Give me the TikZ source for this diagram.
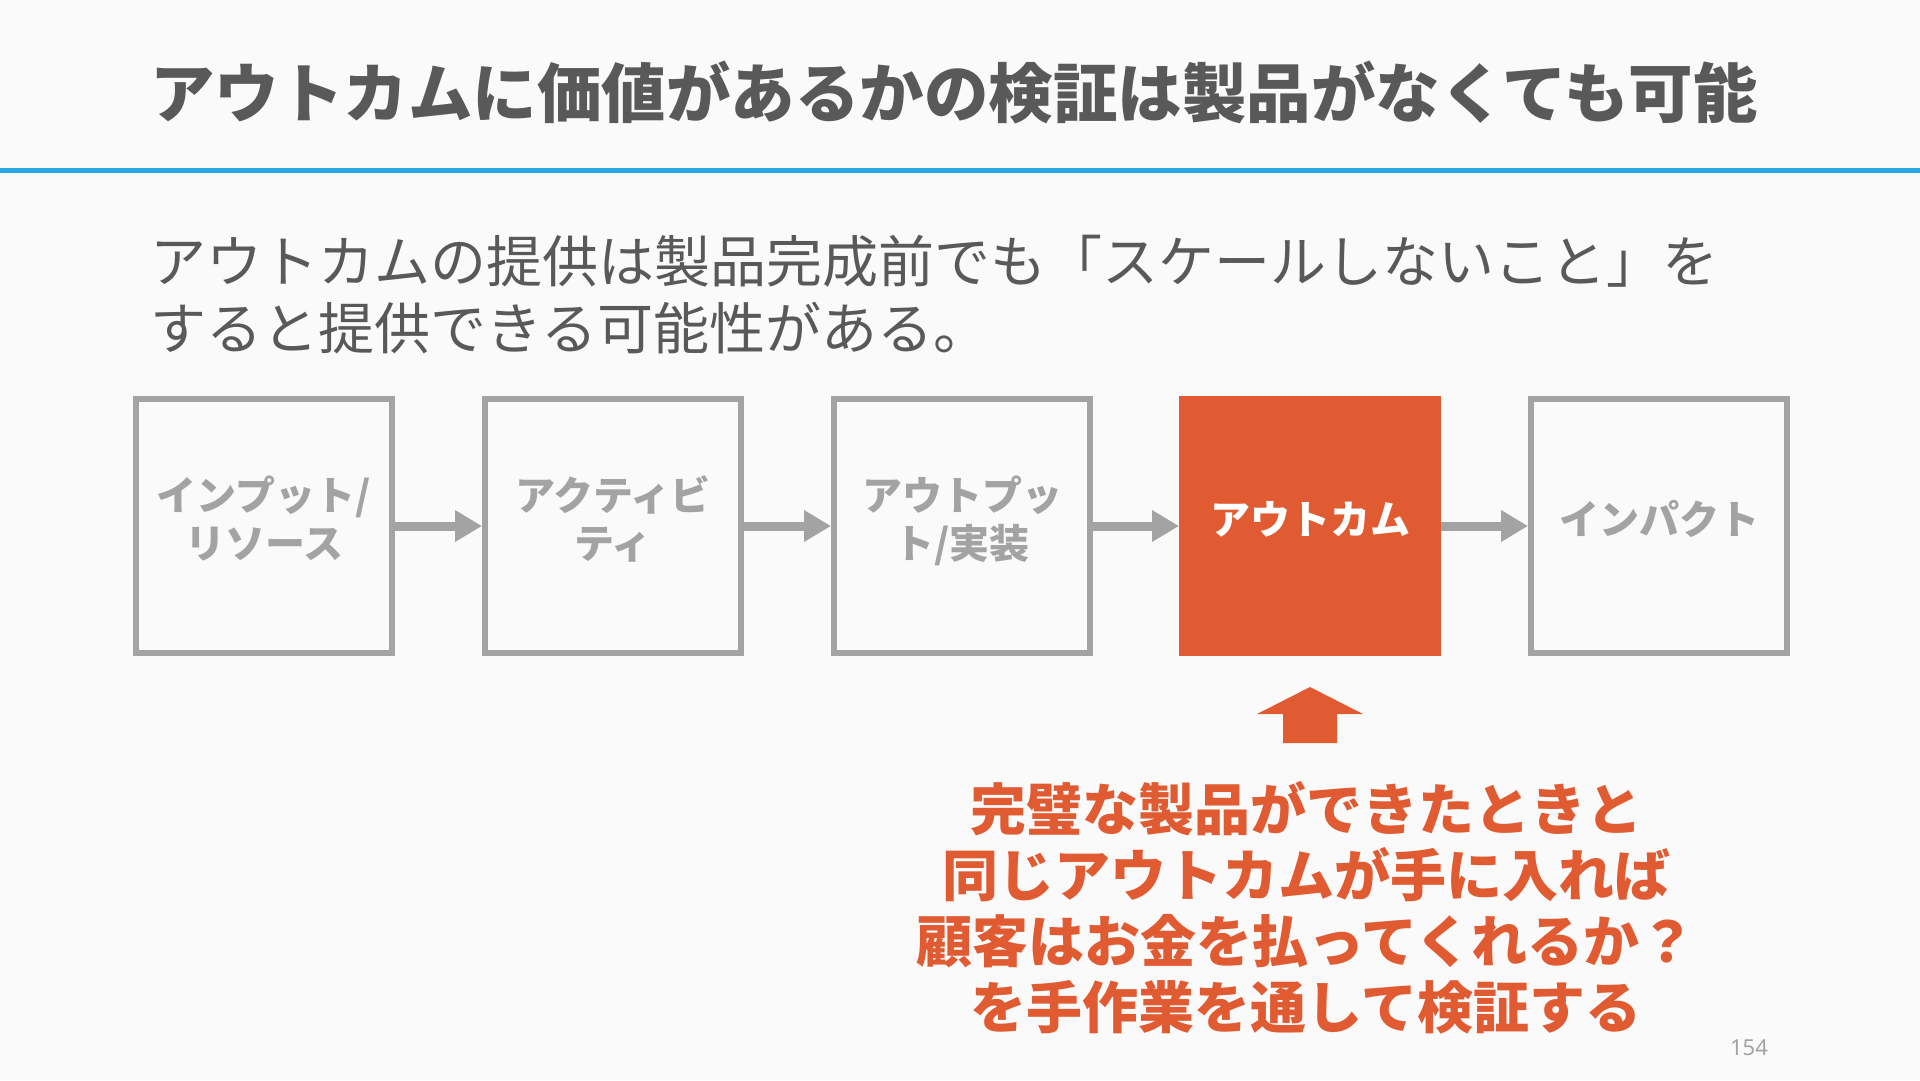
\documentclass[tikz,border=0pt]{standalone}
\usepackage{fontspec}
\setmainfont{Noto Sans CJK JP}
\newfontfamily\numfont{Noto Sans}
\usetikzlibrary{arrows.meta}
\definecolor{bg}{HTML}{FAFAFA}
\definecolor{dark}{HTML}{595959}
\definecolor{rule}{HTML}{29A8DF}
\definecolor{boxgray}{HTML}{A3A3A3}
\definecolor{accent}{HTML}{E05B31}
\tikzset{
  stagebox/.style={draw=boxgray, line width=6pt, fill=bg, minimum width=256pt, minimum height=254pt,
    inner sep=0pt, align=center, text=boxgray, text depth=17pt, font=\bfseries\fontsize{40pt}{48pt}\selectfont},
  keybox/.style={fill=accent, minimum width=262pt, minimum height=260pt, outer sep=0pt,
    inner sep=0pt, align=center, text=white, text depth=17pt, font=\bfseries\fontsize{40pt}{48pt}\selectfont},
  flow/.style={draw=boxgray, line width=9pt, -{Triangle[length=27pt,width=30pt]}, shorten >=0pt}
}
\begin{document}
\begin{tikzpicture}[x=1pt,y=-1pt]
\useasboundingbox (0,0) rectangle (1920,1080);
\fill[bg] (0,0) rectangle (1920,1080);
% title
\node[anchor=west, text=dark, font=\bfseries\fontsize{64.5pt}{76pt}\selectfont, inner sep=0pt] (title) at (150,92) {アウトカムに価値があるかの検証は製品がなくても可能};
\fill[rule] (0,168) rectangle (1920,173);
% subtitle
\node[anchor=west, text=dark, font=\fontsize{56pt}{67pt}\selectfont, inner sep=0pt, align=left] (sub) at (150,295) {アウトカムの提供は製品完成前でも「スケールしないこと」を\\すると提供できる可能性がある。};
% boxes
\node[stagebox] (b1) at (264,526) {インプット/\\リソース};
\node[stagebox] (b2) at (613,526) {アクティビ\\ティ};
\node[stagebox] (b3) at (962,526) {アウトプッ\\ト/実装};
\node[keybox] (b4) at (1310,526) {アウトカム};
\node[stagebox] (b5) at (1659,526) {インパクト};
\draw[flow] (b1.east) -- (b2.west);
\draw[flow] (b2.east) -- (b3.west);
\draw[flow] (b3.east) -- (b4.west);
\draw[flow] (b4.east) -- (b5.west);
% up arrow
\coordinate (up) at (1310,687);
\fill[accent] (up) -- ++(53,27) -- ++(-26,0) -- ++(0,29) -- ++(-54,0) -- ++(0,-29) -- ++(-26,0) -- cycle;
% note
\node[text=accent, align=center, font=\bfseries\fontsize{56pt}{66pt}\selectfont, inner sep=0pt] (note) at (1306,908) {完璧な製品ができたときと\\同じアウトカムが手に入れば\\顧客はお金を払ってくれるか？\\を手作業を通して検証する};
% page number
\node[text=boxgray, font=\numfont\fontsize{22pt}{26pt}\selectfont, inner sep=0pt] (page) at (1749,1048) {154};
\end{tikzpicture}
\end{document}
